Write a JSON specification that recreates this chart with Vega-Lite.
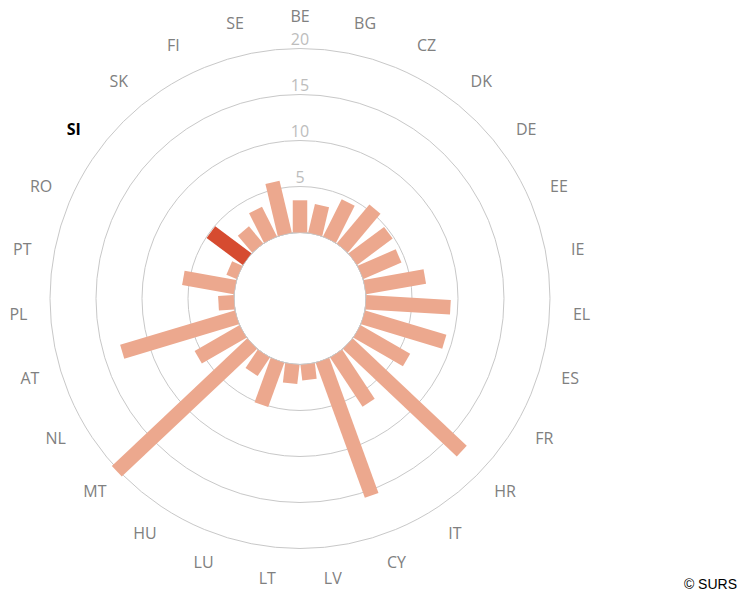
{
  "$schema": "https://vega.github.io/schema/vega-lite/v6.json",
  "width": 742,
  "height": 591,
  "autosize": {"type": "none"},
  "padding": 0,
  "background": "white",
  "config": {"view": {"stroke": null}, "font": "Open Sans"},
  "datasets": {
    "countries": [
      {"country": "BE", "value": 3.5},
      {"country": "BG", "value": 3.2},
      {"country": "CZ", "value": 4.5},
      {"country": "DK", "value": 5.5},
      {"country": "DE", "value": 4.8},
      {"country": "EE", "value": 4.5},
      {"country": "IE", "value": 6.6},
      {"country": "EL", "value": 9.2},
      {"country": "ES", "value": 9.2},
      {"country": "FR", "value": 6.2},
      {"country": "HR", "value": 17.0},
      {"country": "IT", "value": 6.4},
      {"country": "CY", "value": 15.6},
      {"country": "LV", "value": 1.7},
      {"country": "LT", "value": 2.1},
      {"country": "LU", "value": 5.1},
      {"country": "HU", "value": 2.4},
      {"country": "MT", "value": 20.2},
      {"country": "NL", "value": 5.6},
      {"country": "AT", "value": 13.0},
      {"country": "PL", "value": 1.7},
      {"country": "PT", "value": 5.7},
      {"country": "RO", "value": 1.2},
      {"country": "SI", "value": 4.9},
      {"country": "SK", "value": 2.4},
      {"country": "FI", "value": 3.6},
      {"country": "SE", "value": 5.8}
    ],
    "rings": [
      {"ring": 5}, {"ring": 10}, {"ring": 15}, {"ring": 20}
    ],
    "credit": [{"label": "© SURS"}]
  },
  "layer": [
    {
      "data": {"name": "rings"},
      "mark": {"type": "arc", "theta": 0, "theta2": 6.2832, "fill": null, "stroke": "#c8c8c8", "strokeWidth": 1},
      "encoding": {
        "x": {"datum": 0, "type": "quantitative", "scale": {"domain": [-32.6087, 48.0435], "nice": false, "zero": false}, "axis": null},
        "y": {"datum": 0, "type": "quantitative", "scale": {"domain": [-31.7935, 32.4457], "nice": false, "zero": false}, "axis": null},
        "radius": {"field": "ring", "type": "quantitative", "stack": null, "scale": {"type": "linear", "domain": [0, 20], "range": [66, 250], "zero": false, "nice": false}, "legend": null}
      }
    },
    {
      "data": {"name": "rings"},
      "transform": [
        {"calculate": "datum.ring + 66/9.2", "as": "ry"}
      ],
      "mark": {"type": "text", "baseline": "bottom", "align": "center", "dy": -1, "fontSize": 16, "color": "#bdbdbd"},
      "encoding": {
        "x": {"datum": 0, "type": "quantitative"},
        "y": {"field": "ry", "type": "quantitative"},
        "text": {"field": "ring", "type": "quantitative"}
      }
    },
    {
      "data": {"name": "countries"},
      "transform": [
        {"window": [{"op": "row_number", "as": "i"}]},
        {"calculate": "(datum.i - 1) * 2 * PI / 27", "as": "a"},
        {"calculate": "66/9.2", "as": "r0"},
        {"calculate": "sin(datum.a) * datum.r0", "as": "x1"},
        {"calculate": "cos(datum.a) * datum.r0", "as": "y1"},
        {"calculate": "sin(datum.a) * (datum.r0 + datum.value)", "as": "x2"},
        {"calculate": "cos(datum.a) * (datum.r0 + datum.value)", "as": "y2"}
      ],
      "mark": {"type": "rule", "strokeWidth": 14.5, "strokeCap": "butt"},
      "encoding": {
        "x": {"field": "x1", "type": "quantitative"},
        "y": {"field": "y1", "type": "quantitative"},
        "x2": {"field": "x2"},
        "y2": {"field": "y2"},
        "color": {
          "condition": {"test": "datum.country === 'SI'", "value": "#d64b30"},
          "value": "#eca88e"
        }
      }
    },
    {
      "data": {"name": "countries"},
      "transform": [
        {"window": [{"op": "row_number", "as": "i"}]},
        {"filter": "datum.country !== 'SI'"},
        {"calculate": "(datum.i - 1) * 2 * PI / 27", "as": "a"},
        {"calculate": "sin(datum.a) * 282 / 9.2", "as": "lx"},
        {"calculate": "cos(datum.a) * 282 / 9.2", "as": "ly"}
      ],
      "mark": {"type": "text", "align": "center", "baseline": "middle", "fontSize": 16, "color": "#808080"},
      "encoding": {
        "x": {"field": "lx", "type": "quantitative"},
        "y": {"field": "ly", "type": "quantitative"},
        "text": {"field": "country"}
      }
    },
    {
      "data": {"name": "countries"},
      "transform": [
        {"window": [{"op": "row_number", "as": "i"}]},
        {"filter": "datum.country === 'SI'"},
        {"calculate": "(datum.i - 1) * 2 * PI / 27", "as": "a"},
        {"calculate": "sin(datum.a) * 282 / 9.2", "as": "lx"},
        {"calculate": "cos(datum.a) * 282 / 9.2", "as": "ly"}
      ],
      "mark": {"type": "text", "align": "center", "baseline": "middle", "fontSize": 16, "fontWeight": "bold", "color": "#000000"},
      "encoding": {
        "x": {"field": "lx", "type": "quantitative"},
        "y": {"field": "ly", "type": "quantitative"},
        "text": {"field": "country"}
      }
    },
    {
      "data": {"name": "credit"},
      "mark": {"type": "text", "align": "right", "baseline": "alphabetic", "fontSize": 14, "font": "Liberation Sans", "color": "#000000"},
      "encoding": {
        "x": {"datum": 47.5, "type": "quantitative"},
        "y": {"datum": -31.55, "type": "quantitative"},
        "text": {"field": "label"}
      }
    }
  ]
}
